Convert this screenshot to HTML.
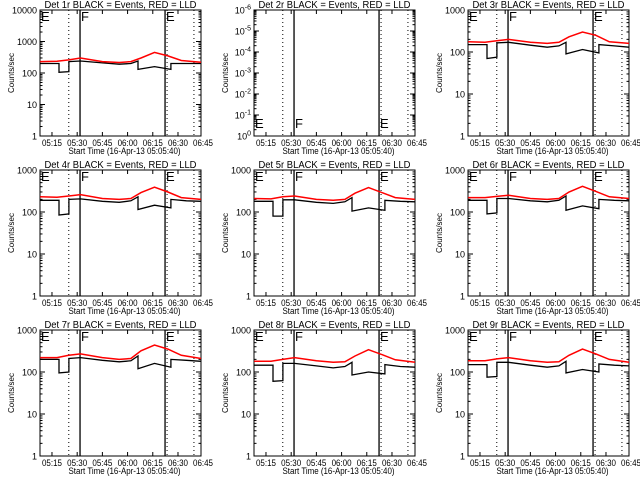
<!DOCTYPE html>
<html><head><meta charset="utf-8">
<style>
html,body{margin:0;padding:0;background:#fff;}
svg{display:block;font-family:"Liberation Sans",sans-serif;}
</style></head>
<body>
<svg id="chart" width="640" height="480" viewBox="0 0 640 480" xmlns="http://www.w3.org/2000/svg"></svg>
<script>
// Time axis (minutes after 05:00)
const xTickLabels = ["05:15","05:30","05:45","06:00","06:15","06:30","06:45"];
const xTickTimes = [15,30,45,60,75,90,105];
const blackTimes = [7.9,19.2,19.2,25.1,25.1,32,45,55,62,66.2,66.2,76,85.8,85.8,95,103.7];
const redTimes = [7.9,18,25,32,45,55,62,68,76,84,92,103.7];
const markerTimes = [25,31.7,82.3,83.5,99.5];
const detectors = ["1r","2r","3r","4r","5r","6r","7r","8r","9r"];
const black1 = [200,200,105,110,230,240,210,190,200,240,130,160,130,200,200,200];
const black3 = [150,150,70,75,165,170,145,130,140,170,90,115,95,150,140,130];
const black4 = [190,190,85,90,200,205,180,170,185,230,115,145,125,200,185,180];
const black5 = [180,180,80,80,195,195,170,160,175,220,105,125,110,190,180,175];
const black6 = [190,190,90,95,210,210,185,175,190,240,110,140,120,200,190,185];
const black7 = [200,200,95,100,210,220,190,175,185,240,120,160,130,200,190,180];
const black8 = [145,145,60,62,160,160,140,125,135,170,85,100,90,150,135,130];
const black9 = [150,150,75,78,170,170,145,130,140,180,95,115,100,155,145,140];
const red1 = [230,235,260,300,230,215,230,300,450,350,250,220];
const red3 = [175,170,185,200,170,160,170,230,300,250,175,160];
const red4 = [230,225,240,260,210,200,210,290,390,300,220,200];
const red5 = [210,205,230,240,200,190,200,280,380,290,220,200];
const red6 = [220,220,235,250,210,200,210,300,410,310,230,210];
const red7 = [220,220,250,270,220,200,210,320,440,350,250,210];
const red8 = [180,180,200,220,185,170,175,240,340,260,195,170];
const red9 = [185,185,205,220,185,170,175,250,350,270,200,170];
const blackSeries = [black1,null,black3,black4,black5,black6,black7,black8,black9];
const redSeries = [red1,null,red3,red4,red5,red6,red7,red8,red9];

const NS="http://www.w3.org/2000/svg";
const svg=document.getElementById('chart');
const T0=7.87,T1=103.7;
const colX=[40,254,468], rowY=[10,170,330], PW=161, PH=126;
function mk(tag,attrs,parent){const e=document.createElementNS(NS,tag);for(const k in attrs)e.setAttribute(k,attrs[k]);(parent||svg).appendChild(e);return e;}

for(let p=0;p<9;p++){
  const L=colX[p%3], Tp=rowY[Math.floor(p/3)], R=L+PW, B=Tp+PH;
  const g=mk('g',{});
  
  
  const xs=t=>L+(t-T0)/(T1-T0)*PW;
  const isEmpty=(p===1);
  const decades=isEmpty?6:(p===0?4:3);
  const ys=v=>B-Math.log10(v)/decades*PH;
  const ysDec=d=>B-d/decades*PH;
  const title=mk('text',{x:(L+R)/2,y:Tp-2,'text-anchor':'middle','font-size':'10',textLength:152,lengthAdjust:'spacingAndGlyphs'},g);
  title.textContent='Det '+detectors[p]+' BLACK = Events, RED = LLD';
  
  
  const fr=mk('rect',{x:L,y:Tp,width:PW,height:PH,fill:'none',stroke:'#000','stroke-width':1},g);
  
  
  for(let d=0;d<=decades;d++){
    const y=ysDec(d);
    mk('line',{x1:L,x2:L+5,y1:y,y2:y,stroke:'#000'},g);
    mk('line',{x1:R,x2:R-5,y1:y,y2:y,stroke:'#000'},g);
    const lab=mk('text',{x:L-3,y:y+3.5,'text-anchor':'end','font-size':'9'},g);
    
    
    if(isEmpty){lab.textContent='10';const s=mk('tspan',{dy:-4,'font-size':'7'},lab);s.textContent=(d===0?'0':'-'+d);}
    else lab.textContent=String(Math.pow(10,d));
    if(d<decades){for(let m=2;m<10;m++){const ym=ysDec(d+Math.log10(m));
      mk('line',{x1:L,x2:L+2.5,y1:ym,y2:ym,stroke:'#000'},g);
      mk('line',{x1:R,x2:R-2.5,y1:ym,y2:ym,stroke:'#000'},g);}}
  }
  const yt=mk('text',{x:0,y:0,'text-anchor':'middle','font-size':'8',transform:`translate(${L-26},${(Tp+B)/2}) rotate(-90)`},g);
  yt.textContent='Counts/sec';
  
  
  xTickTimes.forEach((t,i)=>{
    const x=xs(t);
    if(x<=R+0.5){mk('line',{x1:x,x2:x,y1:B,y2:B-4,stroke:'#000'},g);mk('line',{x1:x,x2:x,y1:Tp,y2:Tp+4,stroke:'#000'},g);}
    const lab=mk('text',{x:Math.min(x,R+2),y:B+10,'text-anchor':'middle','font-size':'9',textLength:20,lengthAdjust:'spacingAndGlyphs'},g);
    lab.textContent=xTickLabels[i];
    
    
  });
  const xt=mk('text',{x:(L+R)/2+4,y:B+18,'text-anchor':'middle','font-size':'9',textLength:112,lengthAdjust:'spacingAndGlyphs'},g);
  xt.textContent='Start Time (16-Apr-13 05:05:40)';
  
  
  markerTimes.forEach((t,i)=>{
    const solid=(i===1||i===2);
    const ln=mk('line',{x1:xs(t),x2:xs(t),y1:Tp,y2:B,stroke:'#000','stroke-width':solid?1.3:1,'stroke-dasharray':solid?'none':'1,3'},g);
    
    
  });
  const ly=isEmpty?B-8:Tp+11;
  [[L+1,'E'],[xs(31.7)+1,'F'],[xs(82.3)+1,'E']].forEach(([x,s])=>{
    const t=mk('text',{x:x,y:ly,'font-size':'13'},g);
    t.textContent=s;
    
    
  });
  if(!isEmpty){
    const bk=blackSeries[p], rd=redSeries[p];
    const bl=mk('polyline',{points:blackTimes.map((t,i)=>xs(t).toFixed(1)+','+ys(bk[i]).toFixed(1)).join(' '),fill:'none',stroke:'#000','stroke-width':1.3},g);
    
    
    const rl=mk('polyline',{points:redTimes.map((t,i)=>xs(t).toFixed(1)+','+ys(rd[i]).toFixed(1)).join(' '),fill:'none',stroke:'#ff0000','stroke-width':1.5},g);
    
    
  }
}
</script>
</body></html>
